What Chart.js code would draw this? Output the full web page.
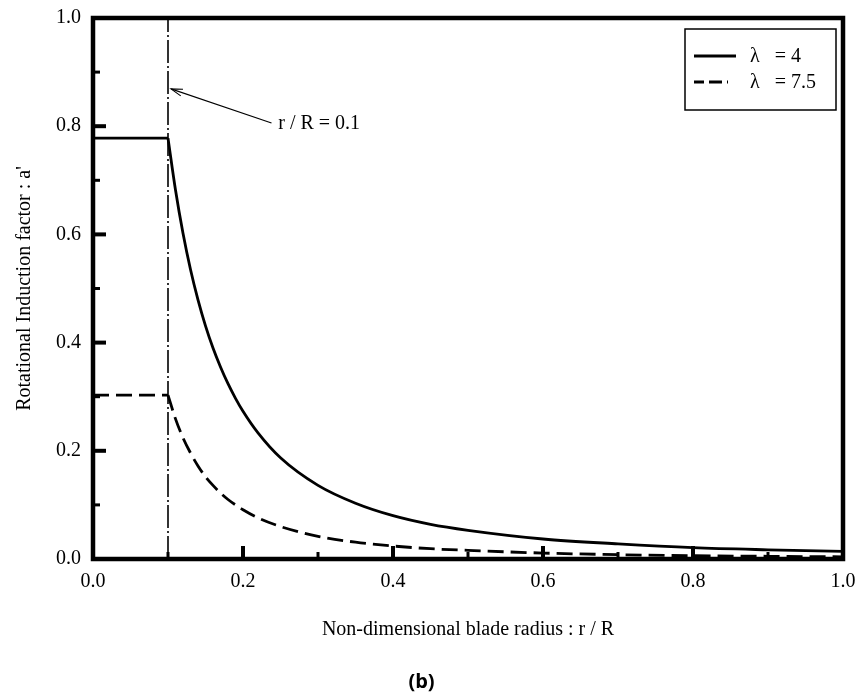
<!DOCTYPE html>
<html>
<head>
<meta charset="utf-8">
<script src="https://cdn.jsdelivr.net/npm/chart.js@4/dist/chart.umd.min.js"></script>
<style>
  html, body { margin: 0; padding: 0; background: #fff; }
  #c { display: block; }
</style>
</head>
<body>
<canvas id="c" width="857" height="695"></canvas>
<script>
// Non-dimensional blade radius r/R
const radius = [0.00, 0.10, 0.11, 0.12, 0.13, 0.14, 0.15, 0.16, 0.17, 0.18, 0.19, 0.20, 0.22, 0.25, 0.30, 0.35, 0.40, 0.45, 0.50, 0.60, 0.70, 0.80, 0.90, 1.00];
// Rotational induction factor a' for tip speed ratio 4
const inductionTsr4 = [0.778, 0.778, 0.682, 0.602, 0.535, 0.479, 0.431, 0.390, 0.355, 0.324, 0.297, 0.273, 0.233, 0.187, 0.136, 0.103, 0.080, 0.064, 0.053, 0.037, 0.028, 0.021, 0.017, 0.014];
// Rotational induction factor a' for tip speed ratio 7.5
const inductionTsr75 = [0.303, 0.303, 0.259, 0.224, 0.196, 0.172, 0.152, 0.136, 0.122, 0.110, 0.100, 0.091, 0.076, 0.060, 0.042, 0.031, 0.024, 0.019, 0.016, 0.011, 0.008, 0.006, 0.005, 0.004];
const seriesLabels = ['λ   = 4', 'λ   = 7.5'];
const hubRadius = 0.1;
const hubNote = 'r / R = 0.1';
const xTitle = 'Non-dimensional blade radius : r / R';
const yTitle = "Rotational Induction factor : a'";
const caption = '(b)';

const SERIF = "'Liberation Serif', 'Times New Roman', serif";
const BLACK = '#000';

const pts = (xs, ys) => xs.map((x, i) => ({ x, y: ys[i] }));
// split each series at the hub: flat part inside the hub, smooth decay outside
const hubIdx = radius.indexOf(hubRadius);
const inner = (ys) => pts(radius.slice(0, hubIdx + 1), ys.slice(0, hubIdx + 1));
const outer = (ys) => pts(radius.slice(hubIdx), ys.slice(hubIdx));

const solid = { borderColor: BLACK, borderWidth: 2.8, borderDash: [] };
const dashed = { borderColor: BLACK, borderWidth: 2.8, borderDash: [16, 7] };

const datasets = [
  { label: seriesLabels[0], data: outer(inductionTsr4), ...solid, cubicInterpolationMode: 'monotone' },
  { label: seriesLabels[1], data: outer(inductionTsr75), ...dashed, cubicInterpolationMode: 'monotone' },
  { data: inner(inductionTsr4), ...solid },
  { data: inner(inductionTsr75), ...dashed },
  // hub position marker
  { data: [{ x: hubRadius, y: 0 }, { x: hubRadius, y: 1 }], borderColor: BLACK, borderWidth: 1.6, borderDash: [23, 3, 2, 3] }
];
datasets.forEach(d => { d.pointRadius = 0; d.fill = false; d.tension = 0; });

// frame and inward tick marks every 0.1 (longer on labelled values)
const frameTicks = {
  id: 'frameTicks',
  afterDatasetsDraw(chart) {
    const { ctx, chartArea: a, scales: { x, y } } = chart;
    ctx.save();
    ctx.strokeStyle = BLACK;
    for (let i = 0; i <= 10; i++) {
      const v = i / 10;
      const major = i % 2 === 0;
      const len = major ? 13 : 7;
      ctx.lineWidth = major ? 4 : 3;
      const px = x.getPixelForValue(v);
      ctx.beginPath(); ctx.moveTo(px, a.bottom); ctx.lineTo(px, a.bottom - len); ctx.stroke();
      const py = y.getPixelForValue(v);
      ctx.beginPath(); ctx.moveTo(a.left, py); ctx.lineTo(a.left + len, py); ctx.stroke();
    }
    ctx.lineWidth = 4.5;
    ctx.strokeRect(a.left, a.top, a.right - a.left, a.bottom - a.top);
    ctx.restore();
  }
};

// arrow pointing at the hub line with its note
const hubArrow = {
  id: 'hubArrow',
  afterDatasetsDraw(chart) {
    const { ctx, scales: { x, y } } = chart;
    const tx = x.getPixelForValue(0.104), ty = y.getPixelForValue(0.869);
    const sx = x.getPixelForValue(0.238), sy = y.getPixelForValue(0.806);
    ctx.save();
    ctx.strokeStyle = BLACK;
    ctx.lineWidth = 1.1;
    ctx.beginPath(); ctx.moveTo(sx, sy); ctx.lineTo(tx, ty); ctx.stroke();
    const ang = Math.atan2(sy - ty, sx - tx);
    const hl = 12, spread = 0.3;
    ctx.beginPath();
    ctx.moveTo(tx + hl * Math.cos(ang - spread), ty + hl * Math.sin(ang - spread));
    ctx.lineTo(tx, ty);
    ctx.lineTo(tx + hl * Math.cos(ang + spread), ty + hl * Math.sin(ang + spread));
    ctx.stroke();
    ctx.fillStyle = BLACK;
    ctx.font = '20px ' + SERIF;
    ctx.textAlign = 'left';
    ctx.textBaseline = 'middle';
    ctx.fillText(hubNote, x.getPixelForValue(0.247), y.getPixelForValue(0.804));
    ctx.restore();
  }
};

// boxed key in the upper right corner
const boxedKey = {
  id: 'boxedKey',
  afterDraw(chart) {
    const { ctx, chartArea: a } = chart;
    const right = a.right - 7, top = a.top + 11;
    const left = right - 151, bottom = top + 81;
    ctx.save();
    ctx.fillStyle = '#fff';
    ctx.fillRect(left, top, right - left, bottom - top);
    ctx.strokeStyle = BLACK;
    ctx.lineWidth = 1.5;
    ctx.strokeRect(left, top, right - left, bottom - top);
    const keyed = chart.data.datasets.filter(d => d.label);
    keyed.forEach((d, i) => {
      const ly = top + 27 + i * 26;
      const isDashed = d.borderDash.length > 0;
      ctx.lineWidth = d.borderWidth;
      ctx.setLineDash(isDashed ? [13, 5] : []);
      ctx.lineDashOffset = isDashed ? 3 : 0;
      ctx.beginPath(); ctx.moveTo(left + 9, ly); ctx.lineTo(left + (isDashed ? 43 : 51), ly); ctx.stroke();
      ctx.setLineDash([]);
      ctx.fillStyle = BLACK;
      ctx.font = '20px ' + SERIF;
      ctx.textAlign = 'left';
      ctx.textBaseline = 'middle';
      ctx.fillText(d.label, left + 65, ly + 1);
    });
    ctx.restore();
  }
};

const tickFont = { family: SERIF, size: 20 };

new Chart(document.getElementById('c'), {
  type: 'line',
  data: { datasets },
  plugins: [frameTicks, hubArrow, boxedKey],
  options: {
    responsive: false,
    animation: false,
    devicePixelRatio: 1,
    layout: { padding: { left: 0, right: 14, top: 18, bottom: 0 } },
    plugins: {
      legend: { display: false },
      tooltip: { enabled: false },
      subtitle: {
        display: true,
        position: 'bottom',
        text: caption,
        color: BLACK,
        font: { family: "'Open Sans', 'Noto Sans', sans-serif", size: 20, weight: 'bold', lineHeight: 1.2 },
        padding: { top: 0, bottom: 1 }
      }
    },
    scales: {
      x: {
        type: 'linear', min: 0, max: 1,
        ticks: { stepSize: 0.2, callback: v => v.toFixed(1), color: BLACK, font: tickFont, padding: 11, maxRotation: 0, autoSkip: false },
        grid: { display: false, drawTicks: false },
        border: { display: false },
        title: { display: true, text: xTitle, color: BLACK, font: { family: SERIF, size: 20, lineHeight: 1.2 }, padding: { top: 0, bottom: 28 } },
        afterFit(s) { s.height = 111; s.paddingLeft = 0; s.paddingRight = 0; }
      },
      y: {
        type: 'linear', min: 0, max: 1,
        ticks: { stepSize: 0.2, callback: v => v.toFixed(1), color: BLACK, font: tickFont, padding: 12 },
        grid: { display: false, drawTicks: false },
        border: { display: false },
        title: { display: true, text: yTitle, color: BLACK, font: { family: SERIF, size: 20, lineHeight: 1.2 }, padding: { top: 13, bottom: 0 } },
        afterFit(s) { s.width = 93; s.paddingTop = 0; s.paddingBottom = 0; }
      }
    }
  }
});
</script>
</body>
</html>
